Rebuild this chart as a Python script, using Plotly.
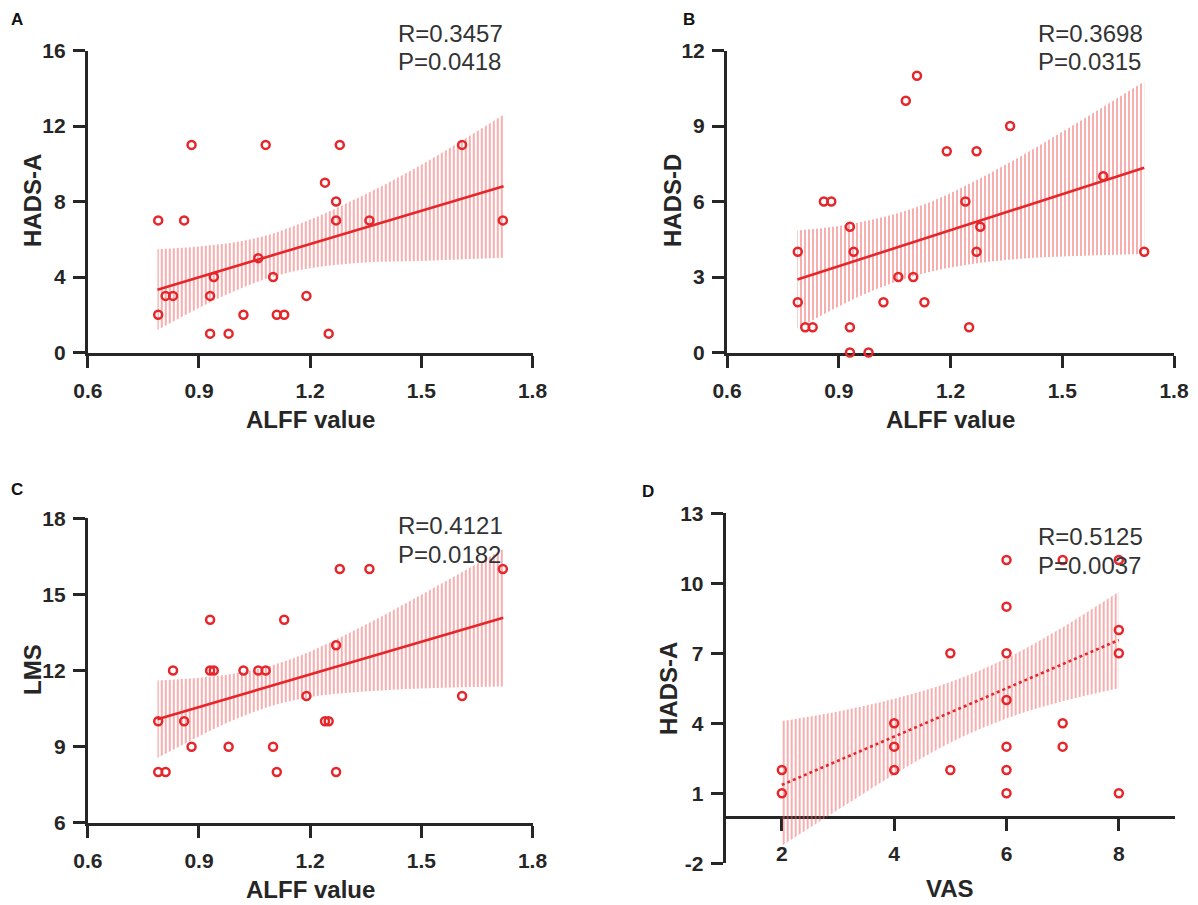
import plotly.graph_objects as go

# ---------------- data ----------------
# Panel A: ALFF value vs HADS-A
alff_a = [0.79, 0.79, 0.81, 0.83, 0.86, 0.88, 0.93, 0.93, 0.94, 0.98, 1.02, 1.06, 1.08,
          1.10, 1.11, 1.13, 1.19, 1.24, 1.25, 1.27, 1.27, 1.28, 1.36, 1.61, 1.72]
hads_a = [7, 2, 3, 3, 7, 11, 3, 1, 4, 1, 2, 5, 11, 4, 2, 2, 3, 9, 1, 8, 7, 11, 7, 11, 7]

# Panel B: ALFF value vs HADS-D
alff_b = [0.79, 0.79, 0.81, 0.83, 0.86, 0.88, 0.93, 0.93, 0.93, 0.94, 0.98, 1.02, 1.06,
          1.08, 1.10, 1.11, 1.13, 1.19, 1.24, 1.25, 1.27, 1.27, 1.28, 1.36, 1.61, 1.72]
hads_d = [4, 2, 1, 1, 6, 6, 5, 1, 0, 4, 0, 2, 3, 10, 3, 11, 2, 8, 6, 1, 8, 4, 5, 9, 7, 4]

# Panel C: ALFF value vs LMS
alff_c = [0.79, 0.79, 0.81, 0.83, 0.86, 0.88, 0.93, 0.93, 0.94, 0.98, 1.02, 1.06, 1.08,
          1.10, 1.11, 1.13, 1.19, 1.24, 1.25, 1.27, 1.27, 1.28, 1.36, 1.61, 1.72]
lms = [10, 8, 8, 12, 10, 9, 14, 12, 12, 9, 12, 12, 12, 9, 8, 14, 11, 10, 10, 13, 8, 16, 16, 11, 16]

# Panel D: VAS vs HADS-A
vas = [2, 2, 4, 4, 4, 5, 5, 6, 6, 6, 6, 6, 6, 6, 7, 7, 7, 8, 8, 8, 8]
hads_a_vas = [2, 1, 4, 3, 2, 7, 2, 11, 9, 7, 5, 3, 2, 1, 11, 4, 3, 11, 8, 7, 1]

# Regression lines (end points) and 95% confidence bands
fit_x_a = [0.788, 1.722]
fit_y_a = [3.33, 8.81]
band_x_a = [0.788, 0.9, 1.0, 1.1, 1.2, 1.35, 1.5, 1.722]
band_hi_a = [5.47, 5.62, 5.85, 6.31, 7.04, 8.40, 9.95, 12.60]
band_lo_a = [1.19, 2.36, 3.29, 4.01, 4.46, 4.77, 4.85, 5.02]

fit_x_b = [0.789, 1.72]
fit_y_b = [2.90, 7.34]
band_x_b = [0.789, 0.9, 1.0, 1.1, 1.2, 1.35, 1.5, 1.72]
band_hi_b = [4.85, 5.03, 5.31, 5.73, 6.34, 7.48, 8.77, 10.77]
band_lo_b = [0.95, 1.83, 2.51, 3.03, 3.38, 3.68, 3.81, 3.91]

fit_x_c = [0.788, 1.721]
fit_y_c = [10.08, 14.08]
band_x_c = [0.788, 0.9, 1.0, 1.1, 1.2, 1.35, 1.5, 1.721]
band_hi_c = [11.61, 11.72, 11.89, 12.22, 12.75, 13.81, 14.99, 16.79]
band_lo_c = [8.55, 9.40, 10.09, 10.62, 10.95, 11.17, 11.29, 11.37]

fit_x_d = [2, 8]
fit_y_d = [1.36, 7.57]
band_x_d = [2, 3, 4, 5, 6, 7, 8]
band_hi_d = [4.10, 4.51, 5.05, 5.77, 6.79, 8.12, 9.64]
band_lo_d = [-1.25, 0.29, 1.81, 3.17, 4.21, 4.94, 5.50]

# Axis ticks and labels
alff_ticks = [0.6, 0.9, 1.2, 1.5, 1.8]
alff_ticktext = ["0.6", "0.9", "1.2", "1.5", "1.8"]
ticks_a = [0, 4, 8, 12, 16]
ticks_b = [0, 3, 6, 9, 12]
ticks_c = [6, 9, 12, 15, 18]
ticks_d = [-2, 1, 4, 7, 10, 13]
vas_ticks = [2, 4, 6, 8]

r_text = ["R=0.3457", "R=0.3698", "R=0.4121", "R=0.5125"]
p_text = ["P=0.0418", "P=0.0315", "P=0.0182", "P=0.0037"]

# ---------------- styling ----------------
W, H = 1198, 905
FONT = "Arial, Liberation Sans, Helvetica, sans-serif"
RED = "#e5262b"
HATCH = "rgba(238,95,95,0.85)"
AX = "#262626"


def px(x):
    return x / W


def py(y):
    return 1 - y / H


fig = go.Figure()

panels = [
    dict(sx="x", sy="y", x=alff_a, y=hads_a, fx=fit_x_a, fy=fit_y_a,
         bx=band_x_a, bh=band_hi_a, bl=band_lo_a, dash="solid"),
    dict(sx="x2", sy="y2", x=alff_b, y=hads_d, fx=fit_x_b, fy=fit_y_b,
         bx=band_x_b, bh=band_hi_b, bl=band_lo_b, dash="solid"),
    dict(sx="x3", sy="y3", x=alff_c, y=lms, fx=fit_x_c, fy=fit_y_c,
         bx=band_x_c, bh=band_hi_c, bl=band_lo_c, dash="solid"),
    dict(sx="x4", sy="y4", x=vas, y=hads_a_vas, fx=fit_x_d, fy=fit_y_d,
         bx=band_x_d, bh=band_hi_d, bl=band_lo_d, dash="dot"),
]

for p in panels:
    fig.add_trace(go.Scatter(x=p["bx"], y=p["bl"], xaxis=p["sx"], yaxis=p["sy"],
                             mode="lines", line=dict(width=0, shape="spline"),
                             showlegend=False, hoverinfo="skip"))
    fig.add_trace(go.Scatter(x=p["bx"], y=p["bh"], xaxis=p["sx"], yaxis=p["sy"],
                             mode="lines", line=dict(width=0, shape="spline"),
                             fill="tonexty", fillcolor="rgba(0,0,0,0)",
                             fillpattern=dict(shape="|", size=4, solidity=0.3,
                                              fgcolor=HATCH, bgcolor="rgba(0,0,0,0)",
                                              fillmode="replace"),
                             showlegend=False, hoverinfo="skip"))
    fig.add_trace(go.Scatter(x=p["fx"], y=p["fy"], xaxis=p["sx"], yaxis=p["sy"],
                             mode="lines", line=dict(color=RED, width=2.6, dash=p["dash"]),
                             showlegend=False))
    fig.add_trace(go.Scatter(x=p["x"], y=p["y"], xaxis=p["sx"], yaxis=p["sy"],
                             mode="markers", cliponaxis=False,
                             marker=dict(symbol="circle-open", size=8, color=RED,
                                         line=dict(width=2.5, color=RED)),
                             showlegend=False))

tickfont = dict(family=FONT, size=21, color=AX, weight="bold")


def axis(domain, rng, tickvals, ticktext=None, **kw):
    d = dict(domain=domain, range=rng, tickmode="array", tickvals=tickvals,
             ticktext=ticktext if ticktext is not None else [str(v) for v in tickvals],
             showline=True, linewidth=3, linecolor=AX, ticks="outside", ticklen=12,
             tickwidth=3, tickcolor=AX, tickfont=tickfont, showgrid=False,
             zeroline=False, layer="below traces", fixedrange=True, automargin=False)
    d.update(kw)
    return d


# plot-area domains (pixel positions measured on the reference)
xa_dom = [px(87.8), px(532.5)]
xb_dom = [px(727.0), px(1174.0)]
xd_dom = [px(725.7), px(1175.0)]
ytop_dom = [py(352.5), py(50.5)]
yc_dom = [py(822.8), py(518.3)]
yd_dom = [py(863.3), py(513.3)]
yd_zero = py(816.7)

fig.update_layout(
    template="none",
    width=W, height=H, margin=dict(l=0, r=0, t=0, b=0, autoexpand=False),
    plot_bgcolor="white", paper_bgcolor="white", showlegend=False,
    xaxis=axis(xa_dom, [0.6, 1.8], alff_ticks, alff_ticktext, anchor="y", ticklabelstandoff=5),
    yaxis=axis(ytop_dom, [0, 16], ticks_a, anchor="x", ticklabelstandoff=3),
    xaxis2=axis(xb_dom, [0.6, 1.8], alff_ticks, alff_ticktext, anchor="y2", ticklabelstandoff=5),
    yaxis2=axis(ytop_dom, [0, 12], ticks_b, anchor="x2", ticklabelstandoff=3),
    xaxis3=axis(xa_dom, [0.6, 1.8], alff_ticks, alff_ticktext, anchor="y3", ticklabelstandoff=5),
    yaxis3=axis(yc_dom, [6, 18], ticks_c, anchor="x3", ticklabelstandoff=3),
    xaxis4=axis(xd_dom, [1, 9], vas_ticks, anchor="free", position=yd_zero, ticklabelstandoff=5),
    yaxis4=axis(yd_dom, [-2, 13], ticks_d, anchor="x4", ticklabelstandoff=3),
)

title_font = dict(family=FONT, size=24, color=AX, weight="bold")
stat_font = dict(family=FONT, size=24, color="#333333")
letter_font = dict(family=FONT, size=17, color="#111111", weight="bold")


def txt(text, x, y, font, **kw):
    d = dict(text=text, x=px(x), y=py(y), xref="paper", yref="paper", showarrow=False,
             font=font, xanchor="center", yanchor="middle")
    d.update(kw)
    return d


annotations = [
    # x-axis titles
    txt("ALFF value", 310, 419, title_font),
    txt("ALFF value", 950, 419, title_font),
    txt("ALFF value", 310, 889, title_font),
    txt("VAS", 950, 888, title_font),
    # y-axis titles
    txt("HADS-A", 32, 201, title_font, textangle=-90),
    txt("HADS-D", 672, 201, title_font, textangle=-90),
    txt("LMS", 32, 670, title_font, textangle=-90),
    txt("HADS-A", 668, 689, title_font, textangle=-90),
    # statistics
    txt(r_text[0], 396, 34, stat_font, xanchor="left"),
    txt(p_text[0], 396, 62, stat_font, xanchor="left"),
    txt(r_text[1], 1036, 34, stat_font, xanchor="left"),
    txt(p_text[1], 1036, 62, stat_font, xanchor="left"),
    txt(r_text[2], 396, 525, stat_font, xanchor="left"),
    txt(p_text[2], 396, 554, stat_font, xanchor="left"),
    txt(r_text[3], 1036, 536, stat_font, xanchor="left"),
    txt(p_text[3], 1036, 565, stat_font, xanchor="left"),
    # panel letters
    txt("A", 17, 20, letter_font),
    txt("B", 689, 19, letter_font),
    txt("C", 17, 490, letter_font),
    txt("D", 648, 491, letter_font),
]
fig.update_layout(annotations=annotations)

fig.write_html(
    "out.html",
    config={"displayModeBar": False, "staticPlot": True},
    post_script="document.body.style.margin='0';document.body.style.padding='0';"
                "document.body.style.overflow='hidden';",
)
